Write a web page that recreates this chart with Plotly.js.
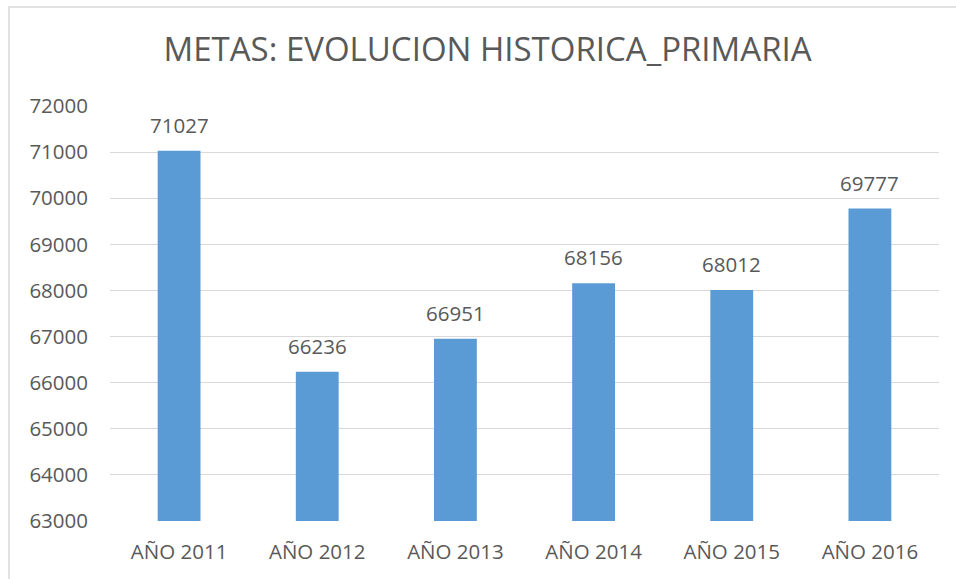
<!DOCTYPE html>
<html>
<head>
<meta charset="utf-8">
<script src="https://cdn.plot.ly/plotly-3.0.1.min.js"></script>
<style>html,body{margin:0;padding:0;background:#fff;}#chart{width:956px;height:579px;}</style>
</head>
<body>
<div id="chart"></div>
<script>
const categories = ["AÑO 2011", "AÑO 2012", "AÑO 2013", "AÑO 2014", "AÑO 2015", "AÑO 2016"];
const values = [71027, 66236, 66951, 68156, 68012, 69777];
const yTicks = [63000, 64000, 65000, 66000, 67000, 68000, 69000, 70000, 71000, 72000];
const titleText = "METAS: EVOLUCION HISTORICA_PRIMARIA";
const axisMin = 63000;

const fontFam = "'Open Sans', 'Noto Sans', sans-serif";
const textColor = "#595959";

const trace = {
  type: "bar",
  x: categories,
  y: values.map(v => v - axisMin),
  base: axisMin,
  marker: {color: "#5B9BD5"},
  width: 0.31,
  hoverinfo: "none"
};

const annotations = categories.map((c, i) => ({
  x: c, y: values[i], xref: "x", yref: "y",
  text: String(values[i]), showarrow: false,
  yanchor: "bottom", yshift: 10,
  font: {family: fontFam, size: 20.5, color: textColor}
}));

const layout = {
  width: 956, height: 579,
  margin: {l: 110, r: 17, t: 106, b: 58},
  paper_bgcolor: "#fff", plot_bgcolor: "#fff",
  showlegend: false,
  title: {text: titleText, x: 0.51, xanchor: "center", y: 0.915, yanchor: "middle",
          font: {family: fontFam, size: 33, color: textColor}},
  xaxis: {type: "category", showgrid: false, zeroline: false, showline: false,
          ticks: "", tickfont: {family: fontFam, size: 20.5, color: textColor}, ticklabelstandoff: 16},
  yaxis: {range: [axisMin, 72000], tickvals: yTicks, ticktext: yTicks.map(String),
          showgrid: true, gridcolor: "#d9d9d9", gridwidth: 1, zeroline: false, showline: false,
          ticks: "", tickfont: {family: fontFam, size: 20.5, color: textColor}, ticklabelstandoff: 21},
  annotations: annotations,
  shapes: [{type: "rect", xref: "paper", yref: "paper",
            x0: (9 - 110) / 829, x1: (965 - 110) / 829,
            y0: (521 - 590) / 415, y1: (521 - 7) / 415,
            line: {color: "#d9d9d9", width: 1.5}, fillcolor: "rgba(0,0,0,0)", layer: "below"}]
};
Plotly.newPlot("chart", [trace], layout, {staticPlot: true, displayModeBar: false});
</script>
</body>
</html>
